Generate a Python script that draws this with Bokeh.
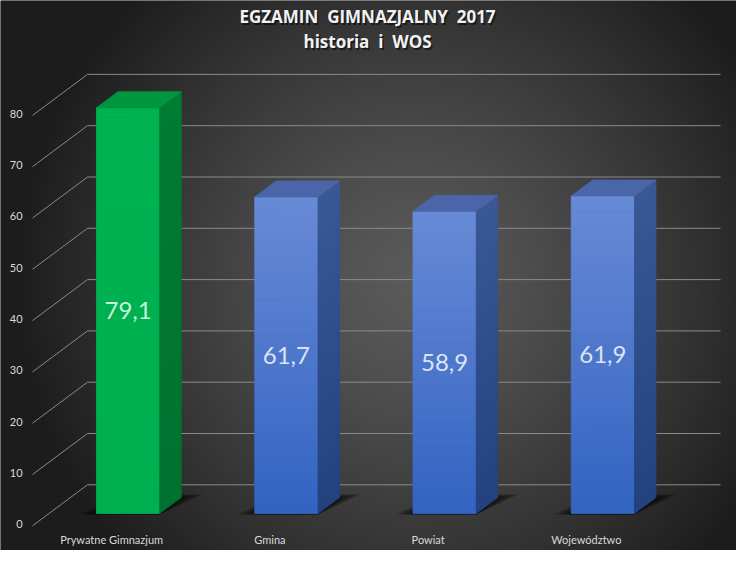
import numpy as np
from bokeh.plotting import figure
from bokeh.models import ColumnDataSource, Range1d
from bokeh.core.properties import value
from bokeh.embed import file_html
from bokeh.resources import INLINE

# ---------------- data ----------------
categories = ["Prywatne Gimnazjum", "Gmina", "Powiat", "Województwo"]
scores = [79.1, 61.7, 58.9, 61.9]
score_labels = ["79,1", "61,7", "58,9", "61,9"]
y_ticks = [0, 10, 20, 30, 40, 50, 60, 70, 80]
title_lines = ["EGZAMIN \u00a0GIMNAZJALNY \u00a02017", "historia \u00a0i \u00a0WOS"]

# ---------------- layout ----------------
W, H = 736, 550
PX_PER_CAT = 158.25
PX_PER_UNIT = 5.13
LEFT_PX = 32.0          # canvas px of category -0.5 (front plane)
ZERO_PX = 24.7          # canvas px (from bottom) of value 0 (front plane)
xs = -0.5 - LEFT_PX / PX_PER_CAT
xe = xs + W / PX_PER_CAT
ys = -ZERO_PX / PX_PER_UNIT
ye = ys + H / PX_PER_UNIT
DX = 55 / PX_PER_CAT    # depth offset in x
DY = 41 / PX_PER_UNIT   # depth offset in y
BW = 0.40
F0, F1 = 0.30, 0.69
N = 40

p = figure(width=W, height=H, output_backend="svg", toolbar_location=None,
           x_range=Range1d(xs, xe), y_range=Range1d(ys, ye),
           min_border=0, outline_line_color=None)
p.axis.visible = False
p.grid.visible = False
p.background_fill_color = "#2a2a2a"
p.border_fill_color = "#2a2a2a"

# ---------------- background gradient ----------------
cols, rows = 368, 275
cx = 8 + (np.arange(cols) + 0.5) * W / cols
cy = 558 - (np.arange(rows) + 0.5) * H / rows
X, Y = np.meshgrid(cx, cy)
t = np.sqrt(((X - 420) / 400.0) ** 2 + ((Y - 290) / 400.0) ** 2)
g = (90 - 62 * np.clip(t, 0, 1) ** 1.3).astype(np.uint8)
img = np.empty((rows, cols), dtype=np.uint32)
view = img.view(dtype=np.uint8).reshape((rows, cols, 4))
view[:, :, 0] = g
view[:, :, 1] = g
view[:, :, 2] = g
view[:, :, 3] = 255
p.image_rgba(image=[img], x=xs, y=ys, dw=xe - xs, dh=ye - ys)

# ---------------- grid (back wall + diagonals) ----------------
gx0 = [-0.5 + DX] * len(y_ticks)
gx1 = [3.5 + DX] * len(y_ticks)
gy = [v + DY for v in y_ticks]
p.segment(x0=gx0, y0=gy, x1=gx1, y1=gy, line_color="#8a8a8a", line_width=1)
p.segment(x0=[-0.5] * len(y_ticks), y0=y_ticks, x1=gx0, y1=gy,
          line_color="#8a8a8a", line_width=1)

# ---------------- shadows ----------------
for e in [0.11, 0.085, 0.06, 0.035, 0.01]:
    sx, sy = [], []
    for i, v in enumerate(scores):
        x0 = i - BW / 2
        x1 = i + BW / 2
        fb = F1 + e * 0.7
        sx.append([x0 - e + F0 * DX, x1 + F0 * DX, x1 + e + fb * DX, x0 + fb * DX])
        sy.append([F0 * DY - 0.2, F0 * DY - 0.2, fb * DY, fb * DY])
    p.patches(xs=sx, ys=sy, fill_color="black", fill_alpha=0.2, line_color=None)


def lerp(c0, c1, a):
    return "#%02x%02x%02x" % tuple(int(round(c0[k] + (c1[k] - c0[k]) * a)) for k in range(3))


front_cols = {
    0: ((0, 176, 80), (0, 178, 82)),
    1: ((50, 100, 194), (104, 138, 214)),
}
side_cols = {
    0: ((0, 114, 48), (0, 124, 52)),
    1: ((35, 66, 126), (58, 88, 150)),
}
top_cols = {0: "#00963f", 1: "#4a65a8"}

# ---------------- bars ----------------
for i, v in enumerate(scores):
    kind = 0 if i == 0 else 1
    x0 = i - BW / 2
    x1 = i + BW / 2
    fl, fr, bt, tp, fc = [], [], [], [], []
    sxs, sys_, scs = [], [], []
    for k in range(N):
        a0 = k / N
        a1 = (k + 1) / N
        am = (k + 0.5) / N
        fl.append(x0 + F0 * DX)
        fr.append(x1 + F0 * DX)
        bt.append(F0 * DY + v * a0)
        tp.append(F0 * DY + v * a1)
        fc.append(lerp(front_cols[kind][0], front_cols[kind][1], am))
        sxs.append([x1 + F0 * DX, x1 + F1 * DX, x1 + F1 * DX, x1 + F0 * DX])
        sys_.append([F0 * DY + v * a0, F1 * DY + v * a0, F1 * DY + v * a1, F0 * DY + v * a1])
        scs.append(lerp(side_cols[kind][0], side_cols[kind][1], am))
    p.quad(left=fl, right=fr, bottom=bt, top=tp, fill_color=fc, line_color=fc, line_width=0.8)
    p.patches(xs=sxs, ys=sys_, fill_color=scs, line_color=scs, line_width=0.8)
    p.patch(x=[x0 + F0 * DX, x1 + F0 * DX, x1 + F1 * DX, x0 + F1 * DX],
            y=[v + F0 * DY, v + F0 * DY, v + F1 * DY, v + F1 * DY],
            fill_color=top_cols[kind], line_color=top_cols[kind], line_width=0.8)

# ---------------- value labels ----------------
lab_src = ColumnDataSource(dict(
    x=[i + F0 * DX for i in range(len(scores))],
    y=[v / 2 + F0 * DY for v in scores],
    t=score_labels,
    c=["#c8f1d5", "#dbe4f5", "#dbe4f5", "#dbe4f5"],
))
p.text(x="x", y="y", text="t", source=lab_src, text_color="c",
       text_font=value("Lato"), text_font_size=value("24px"),
       text_align="center", text_baseline="middle")

# ---------------- y tick labels ----------------
p.text(x=[-0.563] * len(y_ticks), y=[v + 0.3 for v in y_ticks],
       text=[str(v) for v in y_ticks], text_color="#d9d9d9",
       text_font=value("Lato"), text_font_size=value("11px"),
       text_align="right", text_baseline="middle")

# ---------------- category labels ----------------
p.text(x=list(range(len(categories))), y=[-2.7] * len(categories), text=categories,
       text_color="#d9d9d9", text_font=value("Lato"), text_font_size=value("11px"),
       text_align="center", text_baseline="middle")

# ---------------- title ----------------
def px_to_data(rx, ry):
    fx = rx - 8
    fy = 558 - ry
    return xs + fx / PX_PER_CAT, ys + fy / PX_PER_UNIT


t1 = px_to_data(375, 24)
t2 = px_to_data(375, 49)
tx = [t1[0], t2[0]]
ty = [t1[1], t2[1]]
p.text(x=tx, y=ty, text=title_lines, text_color="black", text_alpha=0.55,
       x_offset=1.5, y_offset=1.5, text_font=value("Open Sans"), text_font_size=value("17px"),
       text_font_style="bold", text_align="center", text_baseline="middle")
p.text(x=tx, y=ty, text=title_lines, text_color="#f2f2f2",
       text_font=value("Open Sans"), text_font_size=value("17px"),
       text_font_style="bold", text_align="center", text_baseline="middle")

open("out.html", "w").write(file_html(p, INLINE))
